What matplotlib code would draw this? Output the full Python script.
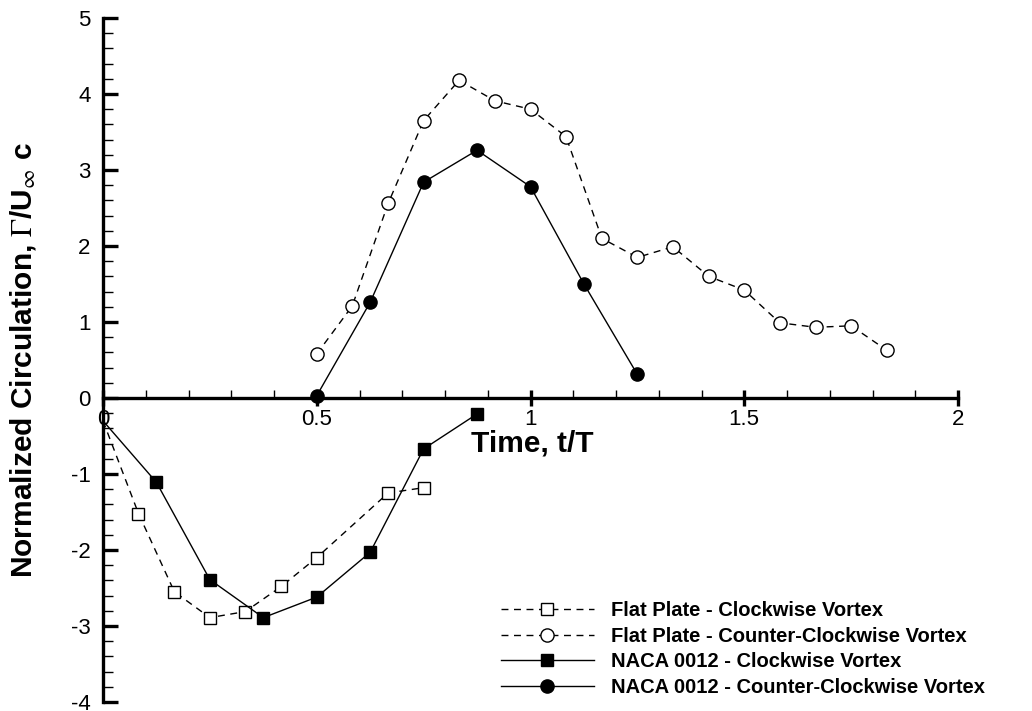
import matplotlib
matplotlib.use("Agg")
import matplotlib.pyplot as plt
from matplotlib.ticker import MultipleLocator

plt.rcParams['font.family'] = ['Liberation Sans', 'DejaVu Sans']
plt.rcParams['mathtext.fontset'] = 'stix'
plt.rcParams['axes.unicode_minus'] = False

# Flat plate, clockwise vortex (open squares, dashed)
fp_cw_t = [0.0, 0.083, 0.167, 0.25, 0.333, 0.417, 0.5, 0.667, 0.75]
fp_cw_g = [-0.30, -1.52, -2.55, -2.89, -2.81, -2.48, -2.10, -1.25, -1.18]

# Flat plate, counter-clockwise vortex (open circles, dashed)
fp_ccw_t = [0.5, 0.583, 0.667, 0.75, 0.833, 0.917, 1.0, 1.083, 1.167, 1.25,
            1.333, 1.417, 1.5, 1.583, 1.667, 1.75, 1.833]
fp_ccw_g = [0.58, 1.21, 2.56, 3.65, 4.18, 3.91, 3.80, 3.44, 2.10, 1.85,
            1.99, 1.60, 1.42, 0.99, 0.93, 0.95, 0.63]

# NACA 0012, clockwise vortex (filled squares, solid)
naca_cw_t = [0.0, 0.125, 0.25, 0.375, 0.5, 0.625, 0.75, 0.875]
naca_cw_g = [-0.30, -1.11, -2.39, -2.89, -2.62, -2.03, -0.67, -0.21]

# NACA 0012, counter-clockwise vortex (filled circles, solid)
naca_ccw_t = [0.5, 0.625, 0.75, 0.875, 1.0, 1.125, 1.25]
naca_ccw_g = [0.03, 1.26, 2.84, 3.26, 2.78, 1.50, 0.31]

labels = ["Flat Plate - Clockwise Vortex",
          "Flat Plate - Counter-Clockwise Vortex",
          "NACA 0012 - Clockwise Vortex",
          "NACA 0012 - Counter-Clockwise Vortex"]

fig = plt.figure(figsize=(10.32, 7.11), dpi=100)
ax = fig.add_axes([103 / 1032, 9 / 711, 855 / 1032, 684 / 711])

dash = (5, 4)
ms = 9
ax.plot(fp_cw_t, fp_cw_g, color='black', lw=1.0, ls='--', dashes=dash,
        marker='s', ms=ms, mfc='white', mec='black', mew=1.0,
        markevery=list(range(1, len(fp_cw_t))), label=labels[0])
ax.plot(fp_ccw_t, fp_ccw_g, color='black', lw=1.0, ls='--', dashes=dash,
        marker='o', ms=ms + 0.5, mfc='white', mec='black', mew=1.0,
        label=labels[1])
ax.plot(naca_cw_t, naca_cw_g, color='black', lw=1.0, ls='-',
        marker='s', ms=ms, mfc='black', mec='black',
        markevery=list(range(1, len(naca_cw_t))), label=labels[2])
ax.plot(naca_ccw_t, naca_ccw_g, color='black', lw=1.0, ls='-',
        marker='o', ms=ms + 0.5, mfc='black', mec='black',
        label=labels[3])

ax.set_xlim(0, 2)
ax.set_ylim(-4, 5)

for side in ('top', 'right'):
    ax.spines[side].set_visible(False)
ax.spines['bottom'].set_position(('data', 0))
ax.spines['left'].set_linewidth(2.4)
ax.spines['bottom'].set_linewidth(2.4)

ax.xaxis.set_major_locator(MultipleLocator(0.5))
ax.xaxis.set_minor_locator(MultipleLocator(0.1))
ax.yaxis.set_major_locator(MultipleLocator(1))
ax.yaxis.set_minor_locator(MultipleLocator(0.2))
ax.xaxis.set_major_formatter(plt.FuncFormatter(lambda v, p: f"{v:g}"))

ax.tick_params(axis='x', which='major', direction='inout', length=12,
               width=2.4, labelsize=16, pad=2)
ax.tick_params(axis='x', which='minor', direction='in', length=6, width=1.0)
ax.tick_params(axis='y', which='major', direction='in', length=11,
               width=2.4, labelsize=16, pad=9)
ax.tick_params(axis='y', which='minor', direction='in', length=7, width=1.0)

ax.set_xlabel("Time, t/T", fontsize=21.5, fontweight='bold')
ax.xaxis.label.set_va('center')
ax.xaxis.set_label_coords(0.502, 0.378)

ax.set_ylabel(r"Normalized Circulation, $\Gamma$/U$_{\infty}$ c",
              fontsize=21.5, fontweight='bold')
ax.yaxis.label.set_va('center')
ax.yaxis.set_label_coords(-0.094, 0.501)

leg = ax.legend(loc='lower left', bbox_to_anchor=(483 / 1032, -4 / 711),
                bbox_transform=fig.transFigure, frameon=False,
                handlelength=4.6, handletextpad=0.85, labelspacing=0.33,
                prop={'weight': 'bold', 'size': 14.5})

fig.savefig("out.png", dpi=100)
